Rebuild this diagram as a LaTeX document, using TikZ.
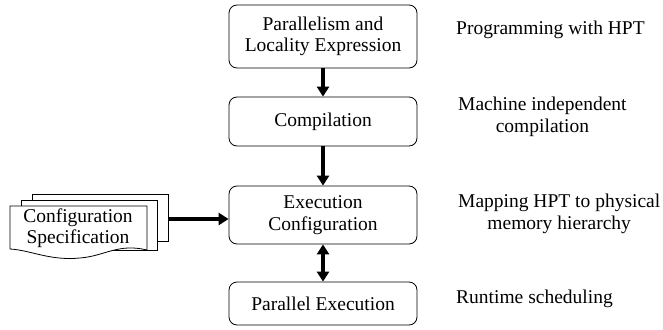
\documentclass[tikz,border=0pt]{standalone}
\usepackage{fontspec}
\setmainfont{Liberation Serif}
\usetikzlibrary{arrows.meta}
\begin{document}
\begin{tikzpicture}[x=1pt,y=-1pt,
  txt/.style={font=\fontsize{19.5}{21.5}\selectfont},
  stage/.style={txt,draw,rounded corners=8pt,line width=0.8pt,minimum width=188pt,align=center,inner sep=2pt},
  note/.style={txt,anchor=west,align=center,inner sep=0pt},
  bigtip/.tip={Triangle[length=10pt,width=12pt]},
  flow/.style={line width=4pt,-bigtip},
  sheet/.style={draw,fill=white,line width=0.8pt}]
\useasboundingbox (0,0) rectangle (663,329);

% processing stages
\node[stage,minimum height=63pt] (expr) at (323,36.5) {Parallelism and\\Locality Expression};
\node[stage,minimum height=49pt] (comp) at (323,121.5) {Compilation};
\node[stage,minimum height=58pt] (exec) at (323,215) {Execution\\Configuration};
\node[stage,minimum height=43pt] (run) at (323,303.5) {Parallel Execution};

% connectors between stages
\draw[flow] (expr) -- (comp);
\draw[flow] (comp) -- (exec);
\draw[flow,bigtip-bigtip] (exec) -- (run);

% stacked configuration documents
\draw[sheet] (32,194) -- (168,194) -- (168,241) -- (32,241) -- cycle;
\draw[sheet] (21,200) -- (157,200) -- (157,250) -- (21,250) -- cycle;
\draw[sheet] (10,206) -- (147,206) -- (147,250)
  .. controls (118,243) and (105,256) .. (80,258)
  .. controls (50,261) and (30,250) .. (10,249) -- cycle;
\node[txt,align=center,inner sep=0pt] (spec) at (78,228) {Configuration\\Specification};
\coordinate (specout) at (168,219);
\draw[flow] (specout) -- (exec.west |- specout);

% stage descriptions
\node[note] (n1) at (456,30) {Programming with HPT};
\node[note] (n2) at (458,117) {Machine independent\\compilation};
\node[note] (n3) at (458,214) {Mapping HPT to physical\\memory hierarchy};
\node[note] (n4) at (456,299) {Runtime scheduling};
\end{tikzpicture}
\end{document}
